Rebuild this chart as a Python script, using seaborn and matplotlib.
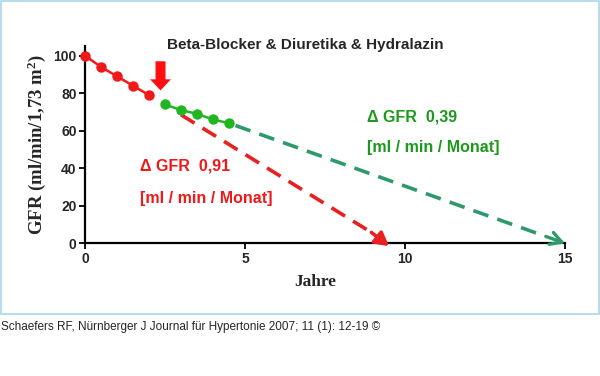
import matplotlib
matplotlib.use("Agg")
import matplotlib.pyplot as plt
import seaborn as sns
import pandas as pd
from matplotlib.patches import Rectangle

# --- DATA ---
red_years = [0, 0.5, 1, 1.5, 2]
red_gfr = [100, 94, 89, 84, 79]
green_years = [2.5, 3, 3.5, 4, 4.5]
green_gfr = [74, 71, 69, 66, 64]
red_proj_years = [3.0, 9.5]
red_proj_gfr = [68.5, 0]
green_proj_years = [4.7, 15]
green_proj_gfr = [62.8, 0]
x_ticks = [0, 5, 10, 15]
y_ticks = [0, 20, 40, 60, 80, 100]

title = "Beta-Blocker & Diuretika & Hydralazin"
red_label = ["\u0394 GFR  0,91", "[ml / min / Monat]"]
green_label = ["\u0394 GFR  0,39", "[ml / min / Monat]"]
caption = "Schaefers RF, Nürnberger J Journal für Hypertonie 2007; 11 (1): 12-19 \u00a9"

RED = "#f01818"
GREEN = "#22b522"
RED_DASH = "#e82020"
GREEN_DASH = "#2e9a6a"

sns.set_style("white")
plt.rcParams["font.family"] = ["Liberation Sans", "DejaVu Sans"]
plt.rcParams["mathtext.default"] = "regular"

fig = plt.figure(figsize=(6, 3.76), dpi=100)
ax = fig.add_axes([85 / 600, 1 - 243.3 / 376, 480 / 600, 197 / 376])

red_df = pd.DataFrame({"x": red_years, "y": red_gfr})
green_df = pd.DataFrame({"x": green_years, "y": green_gfr})


def on_line(xs, ys, back):
    # point on the projection line, `back` years before its end
    slope = (ys[1] - ys[0]) / (xs[1] - xs[0])
    return xs[1] - back, ys[1] - slope * back


# projections (dashed)
dash = (0, (4.4, 2.6))
sns.lineplot(x=red_proj_years[:1] + [red_proj_years[1] - 0.6],
             y=red_proj_gfr[:1] + [on_line(red_proj_years, red_proj_gfr, 0.6)[1]],
             ax=ax, color=RED_DASH, lw=2.6, linestyle=dash, zorder=2)
sns.lineplot(x=green_proj_years[:1] + [green_proj_years[1] - 0.8],
             y=green_proj_gfr[:1] + [on_line(green_proj_years, green_proj_gfr, 0.8)[1]],
             ax=ax, color=GREEN_DASH, lw=2.6, linestyle=dash, zorder=2)
ax.annotate("", xy=(red_proj_years[-1], red_proj_gfr[-1] - 1.5),
            xytext=on_line(red_proj_years, red_proj_gfr, 0.55),
            arrowprops=dict(arrowstyle="-|>,head_length=0.8,head_width=0.45",
                            color=RED_DASH, lw=2.6, mutation_scale=10,
                            shrinkA=0, shrinkB=0, clip_on=False),
            annotation_clip=False, zorder=3)
ax.annotate("", xy=(green_proj_years[-1], green_proj_gfr[-1]),
            xytext=on_line(green_proj_years, green_proj_gfr, 0.6),
            arrowprops=dict(arrowstyle="->,head_length=0.8,head_width=0.45",
                            color=GREEN_DASH, lw=2.4, mutation_scale=10,
                            shrinkA=0, shrinkB=0, clip_on=False),
            annotation_clip=False, zorder=3)

# measured values
sns.lineplot(data=red_df, x="x", y="y", ax=ax, color=RED, lw=1.8,
             marker="o", markersize=7.5, markeredgewidth=0, clip_on=False, zorder=4)
sns.lineplot(data=green_df, x="x", y="y", ax=ax, color=GREEN, lw=1.8,
             marker="o", markersize=7.5, markeredgewidth=0, clip_on=False, zorder=4)

# therapy start arrow
ax.annotate("", xy=(2.36, 80), xytext=(2.36, 98.5),
            arrowprops=dict(arrowstyle="simple,head_length=0.8,head_width=1.5,tail_width=0.72",
                            color="#ff1010", mutation_scale=10, lw=0),
            zorder=5)

ax.set_xlim(0, 15)
ax.set_ylim(0, 105)
ax.set_xticks(x_ticks)
ax.set_yticks(y_ticks)
ax.tick_params(axis="both", labelsize=10, length=4, width=1.3, color="black",
               direction="out", bottom=True, left=True, pad=2)
for lab in ax.get_xticklabels() + ax.get_yticklabels():
    lab.set_fontweight("bold")
for side in ["top", "right"]:
    ax.spines[side].set_visible(False)
for side in ["left", "bottom"]:
    ax.spines[side].set_linewidth(1.6)
    ax.spines[side].set_color("black")

ax.set_xlabel("Jahre", fontsize=12.5, fontweight="bold",
              family=["Liberation Serif", "DejaVu Serif"])
ax.xaxis.set_label_coords((315 - 85) / 480, -0.155)
ax.set_ylabel("GFR (ml/min/1,73 m$^{2}$)", fontsize=13.5, fontweight="bold",
              family=["Liberation Serif", "DejaVu Serif"])
ax.yaxis.set_label_coords(-0.078, 0.5)

ax.text(1.72, 41, red_label[0], color=RED, fontsize=11.5, fontweight="bold", va="center")
ax.text(1.72, 24, red_label[1], color=RED, fontsize=11.5, fontweight="bold", va="center")
ax.text(8.8, 67.4, green_label[0], color="#1a9a1a", fontsize=11.5, fontweight="bold", va="center")
ax.text(8.8, 50.8, green_label[1], color="#1a9a1a", fontsize=11.5, fontweight="bold", va="center")

fig.text(305 / 600, 1 - 45 / 376, title, fontsize=11, fontweight="bold",
         ha="center", va="center")

fig.patches.append(Rectangle((0.5 / 600, 1 - 314 / 376), 598.5 / 600, 313.5 / 376,
                             transform=fig.transFigure, fill=False,
                             edgecolor="#a9d6e8", lw=1.2))
fig.text(1 / 600, 1 - 327 / 376, caption, fontsize=8.5, ha="left", va="center")

fig.savefig("out.png", dpi=100)
